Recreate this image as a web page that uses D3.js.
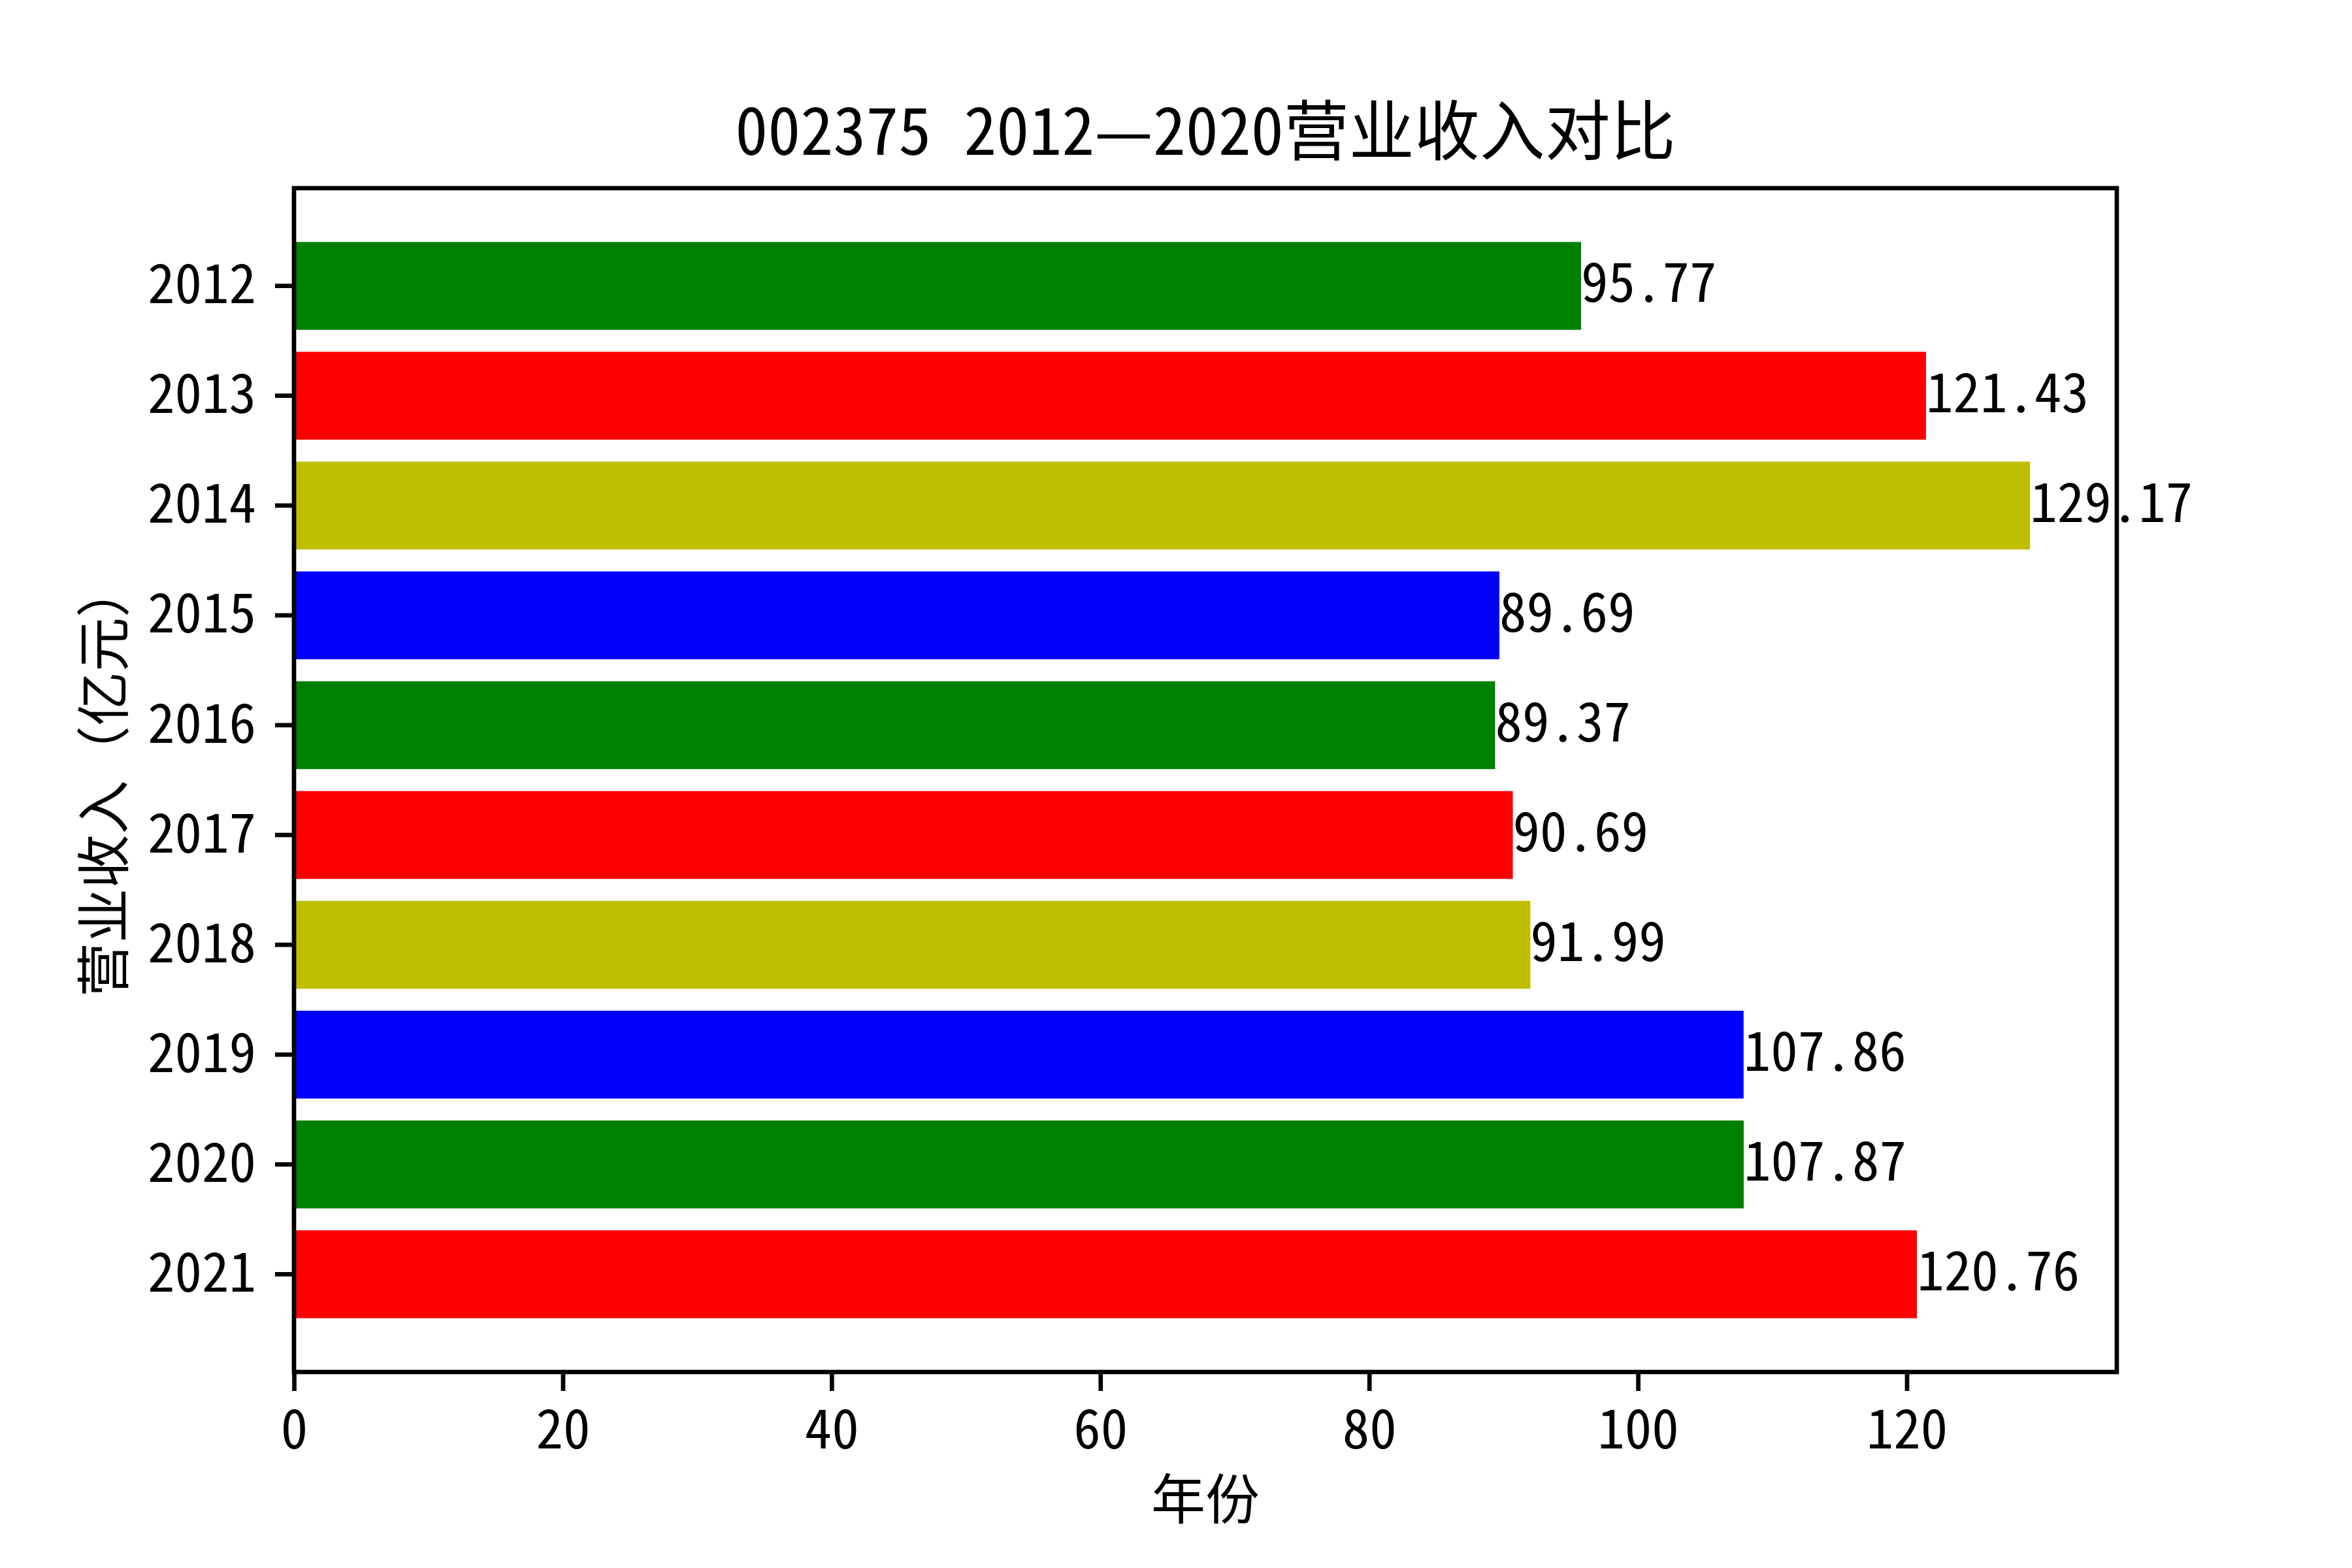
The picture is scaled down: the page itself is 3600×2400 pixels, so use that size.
<!DOCTYPE html>
<html>
<head>
<meta charset="utf-8">
<script src="https://cdn.jsdelivr.net/npm/d3@7"></script>
<style>
  body { margin: 0; background: #fff; }
  svg text { font-family: "Noto Sans CJK SC", sans-serif; font-feature-settings: "hwid" 1; }
</style>
</head>
<body>
<div id="chart"></div>
<script>
// years on the y axis, top to bottom
var years = ["2012", "2013", "2014", "2015", "2016", "2017", "2018", "2019", "2020", "2021"];
// revenue, 100 million yuan
var revenue = [95.77, 121.43, 129.17, 89.69, 89.37, 90.69, 91.99, 107.86, 107.87, 120.76];
// bar colours cycle g, r, y, b
var barColors = ["#008000", "#ff0000", "#bfbf00", "#0000ff"];
var xTicks = [0, 20, 40, 60, 80, 100, 120];

var titleText = "002375 2012\u20142020营业收入对比";
var xLabelText = "年份";
var yLabelText = "营业收入（亿元）";

// figure and axes box, in pixels
var W = 3600, H = 2400;
var box = { left: 450, right: 3240, top: 288, bottom: 2100 };
var fs = 83;      // 10pt at 600 dpi
var lw = 6.7;     // 0.8pt line

var svg = d3.select("#chart")
  .append("svg")
  .attr("width", W)
  .attr("height", H)
  .style("background", "#fff");

var x = d3.scaleLinear()
  .domain([0, d3.max(revenue) * 1.05])
  .range([box.left, box.right]);

var y = d3.scaleBand()
  .domain(years)
  .range([box.top, box.bottom])
  .paddingInner(0.2)
  .paddingOuter(0.49);

// bars
svg.append("g")
  .selectAll("rect")
  .data(years)
  .join("rect")
  .attr("x", x(0))
  .attr("y", function(d) { return y(d); })
  .attr("width", function(d, i) { return x(revenue[i]) - x(0); })
  .attr("height", y.bandwidth())
  .attr("fill", function(d, i) { return barColors[i % barColors.length]; });

// axes
var xAxis = svg.append("g")
  .attr("transform", "translate(0," + box.bottom + ")")
  .call(d3.axisBottom(x).tickValues(xTicks).tickFormat(d3.format("d")).tickSize(29).tickPadding(29));

var yAxis = svg.append("g")
  .attr("transform", "translate(" + box.left + ",0)")
  .call(d3.axisLeft(y).tickSize(29).tickPadding(29));

[xAxis, yAxis].forEach(function(g) {
  g.select(".domain").remove();
  g.attr("font-size", null).attr("font-family", null);
  g.selectAll("line").attr("stroke", "#000").attr("stroke-width", lw);
  g.selectAll("text").attr("fill", "#000").style("font-size", fs + "px");
});

// frame
svg.append("rect")
  .attr("x", box.left)
  .attr("y", box.top)
  .attr("width", box.right - box.left)
  .attr("height", box.bottom - box.top)
  .attr("fill", "none")
  .attr("stroke", "#000")
  .attr("stroke-width", lw);

// value labels at the end of each bar
svg.append("g")
  .selectAll("text")
  .data(years)
  .join("text")
  .attr("x", function(d, i) { return x(revenue[i]); })
  .attr("y", function(d) { return y(d) + y.bandwidth() / 2; })
  .attr("dy", "0.3em")
  .style("font-size", fs + "px")
  .attr("fill", "#000")
  .text(function(d, i) { return revenue[i]; });

// title and axis labels
svg.append("text")
  .attr("x", (box.left + box.right) / 2)
  .attr("y", 237)
  .attr("text-anchor", "middle")
  .style("font-size", "100px")
  .text(titleText);

svg.append("text")
  .attr("x", (box.left + box.right) / 2)
  .attr("y", 2325)
  .attr("text-anchor", "middle")
  .style("font-size", fs + "px")
  .text(xLabelText);

// full-width brackets here, so no half-width feature
svg.append("text")
  .attr("transform", "translate(189," + (box.top + box.bottom) / 2 + ") rotate(-90)")
  .attr("text-anchor", "middle")
  .style("font-size", fs + "px")
  .style("font-feature-settings", "normal")
  .text(yLabelText);
</script>
</body>
</html>
